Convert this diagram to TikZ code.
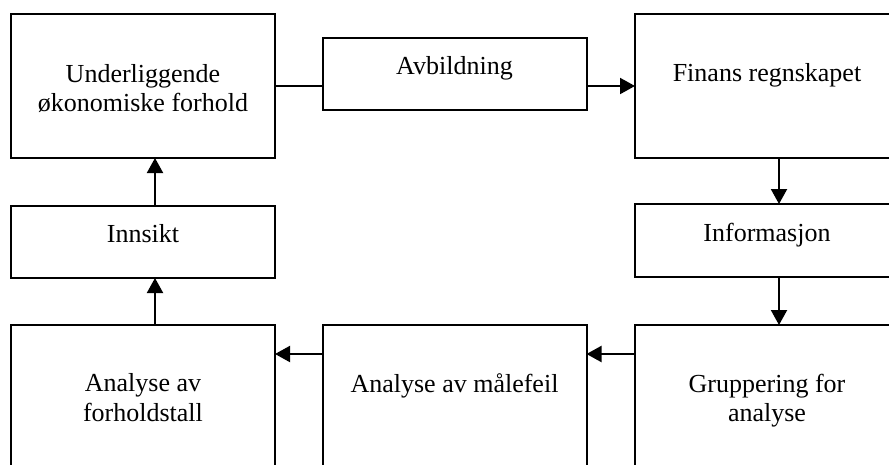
\documentclass[tikz,border=0pt]{standalone}
\usepackage{fontspec}
\setmainfont{Liberation Serif}
\usetikzlibrary{arrows.meta}
\begin{document}
\begin{tikzpicture}[x=1pt,y=-1pt,
  box/.style={draw,line width=2pt,rectangle,inner sep=0pt,outer sep=0pt,minimum width=264pt},
  txt/.style={anchor=base,inner sep=0pt,font=\fontsize{26}{30}\selectfont},
  link/.style={line width=2pt},
  arr/.style={line width=2pt,-{Triangle[length=15pt,width=16pt]}}]
\useasboundingbox (0,0) rectangle (889,464);
\clip (0,0) rectangle (889,464);

% boxes (the right column and bottom row run past the edge)
\node[box,minimum height=144pt] (b1) at (143,86) {};
\node[box,minimum height=72pt]  (av) at (454.5,74) {};
\node[box,minimum height=144pt] (b3) at (767,86) {};
\node[box,minimum height=72pt]  (in) at (143,242) {};
\node[box,minimum height=73pt]  (inf) at (767,240.5) {};
\node[box,minimum height=144pt] (b6) at (143,397) {};
\node[box,minimum height=144pt] (b7) at (454.5,397) {};
\node[box,minimum height=144pt] (b8) at (767,397) {};

% texts
\node[txt] (t1a) at (143,82) {Underliggende};
\node[txt] (t1b) at (143,111) {økonomiske forhold};
\node[txt] (t2) at (454.5,74) {Avbildning};
\node[txt] (t3) at (767,81) {Finans regnskapet};
\node[txt] (t4) at (143,242) {Innsikt};
\node[txt] (t5) at (767,241) {Informasjon};
\node[txt] (t6a) at (143,391) {Analyse av};
\node[txt] (t6b) at (143,421) {forholdstall};
\node[txt] (t7) at (454.5,392) {Analyse av målefeil};
\node[txt] (t8a) at (767,392) {Gruppering for};
\node[txt] (t8b) at (767,421) {analyse};

% guide lines for connectors
\coordinate (lx) at (155,0);
\coordinate (rx) at (779,0);
\coordinate (ly) at (0,354);

% connectors
\draw[link] (b1.east) -- (av.west |- b1.east);
\draw[arr] (av.east |- b1.east) -- (b3.west);
\draw[arr] (b3.south -| rx) -- (inf.north -| rx);
\draw[arr] (inf.south -| rx) -- (b8.north -| rx);
\draw[arr] (b8.west |- ly) -- (b7.east |- ly);
\draw[arr] (b7.west |- ly) -- (b6.east |- ly);
\draw[arr] (b6.north -| lx) -- (in.south -| lx);
\draw[arr] (in.north -| lx) -- (b1.south -| lx);
\end{tikzpicture}
\end{document}
